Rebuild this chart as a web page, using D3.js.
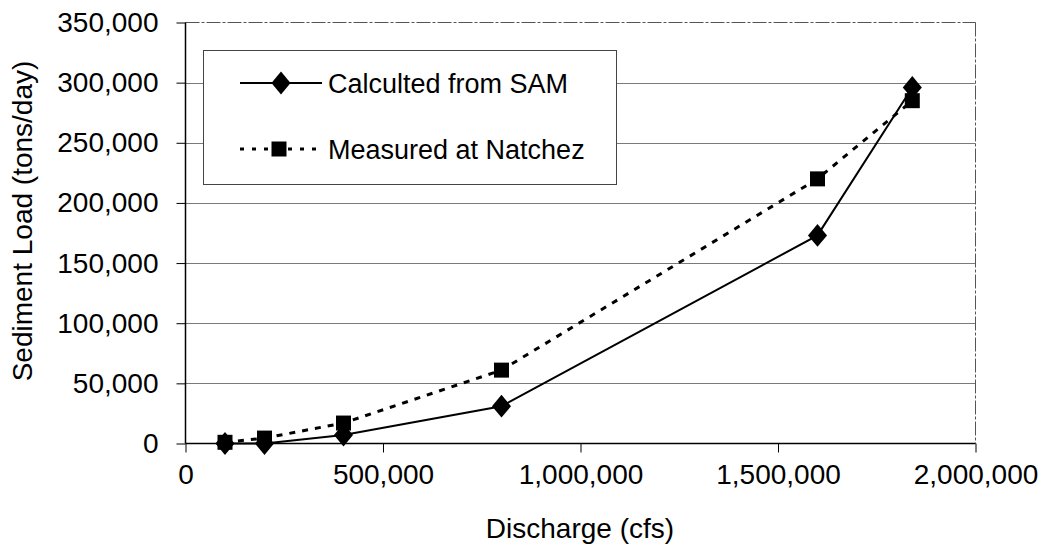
<!DOCTYPE html>
<html><head><meta charset="utf-8">
<script src="https://cdn.jsdelivr.net/npm/d3@7"></script>
<style>body{margin:0;background:#fff}svg{display:block}text{font-family:"Liberation Sans",Arial,sans-serif;fill:#000}</style>
</head><body><svg id="c" width="1049" height="556"></svg>
<script>
const discharge = [100000, 200000, 400000, 800000, 1600000, 1840000];
const calculated = [0, 0, 7000, 31000, 173000, 296000];
const measured = [1000, 4500, 17000, 61000, 220000, 285000];
const xTicks = [0, 500000, 1000000, 1500000, 2000000];
const yTicks = [0, 50000, 100000, 150000, 200000, 250000, 300000, 350000];
const seriesNames = ["Calculted from SAM", "Measured at Natchez"];

const svg = d3.select("#c");
const L = 185.5, R = 975.5, T = 22.5, B = 443.5;
const x = d3.scaleLinear().domain([0, 2000000]).range([L, R]);
const y = d3.scaleLinear().domain([0, 350000]).range([B, T]);
const fmt = d3.format(",");

// gridlines
svg.append("g").selectAll("line").data(yTicks.filter(d => d > 0 && d < 350000)).join("line")
  .attr("x1", L).attr("x2", R).attr("y1", d => Math.round(y(d)) + 0.5).attr("y2", d => Math.round(y(d)) + 0.5)
  .attr("stroke", "#7a7a7a").attr("stroke-width", 1);
// top and right border
svg.append("line").attr("x1", L).attr("x2", R).attr("y1", T).attr("y2", T)
  .attr("stroke", "#555").attr("stroke-dasharray", "14,2,3,2");
svg.append("line").attr("x1", R).attr("x2", R).attr("y1", T).attr("y2", B)
  .attr("stroke", "#555").attr("stroke-dasharray", "14,2,3,2");

// axes
const yAxis = d3.axisLeft(y).tickValues(yTicks).tickFormat(fmt).tickSize(9).tickPadding(18);
const gy = svg.append("g").attr("transform", `translate(${L},0)`).call(yAxis);
const xAxis = d3.axisBottom(x).tickValues(xTicks).tickFormat(fmt).tickSize(9).tickPadding(12);
const gx = svg.append("g").attr("transform", `translate(0,${B})`).call(xAxis);
[gx, gy].forEach(g => {
  g.select(".domain").attr("stroke", "#000").attr("stroke-width", 1.5);
  g.selectAll(".tick line").attr("stroke", "#000");
  g.selectAll("text").style("font-size", "28px").attr("fill", "#000");
});
gx.select(".domain").attr("d", `M${L},0H${R}`);
gy.select(".domain").attr("d", `M0,${B}V${T}`);

// axis titles
svg.append("text").attr("x", 580).attr("y", 538).attr("text-anchor", "middle")
  .style("font-size", "28px").text("Discharge (cfs)");
svg.append("text").attr("transform", `translate(32,221) rotate(-90)`).attr("text-anchor", "middle")
  .style("font-size", "28px").text("Sediment Load (tons/day)");

// lines
const pts = arr => discharge.map((d, i) => [d, arr[i]]);
const line = d3.line().x(d => x(d[0])).y(d => y(d[1]));
svg.append("path").attr("d", line(pts(measured))).attr("fill", "none")
  .attr("stroke", "#000").attr("stroke-width", 3).attr("stroke-dasharray", "6,7");
svg.append("path").attr("d", line(pts(calculated))).attr("fill", "none")
  .attr("stroke", "#000").attr("stroke-width", 2);

const diamond = d3.symbol().type(d3.symbolDiamond).size(150);
const square = d3.symbol().type(d3.symbolSquare).size(225);
svg.append("g").selectAll("path").data(pts(calculated)).join("path")
  .attr("d", diamond).attr("transform", d => `translate(${x(d[0])},${y(d[1])}) scale(1.45,1)`).attr("fill", "#000");
svg.append("g").selectAll("path").data(pts(measured)).join("path")
  .attr("d", square).attr("transform", d => `translate(${x(d[0])},${y(d[1])})`).attr("fill", "#000");

// legend
const lg = svg.append("g");
lg.append("rect").attr("x", 203.5).attr("y", 50.5).attr("width", 413).attr("height", 134)
  .attr("fill", "#fff").attr("stroke", "#444").attr("stroke-width", 1);
lg.append("line").attr("x1", 240).attr("x2", 322).attr("y1", 83).attr("y2", 83)
  .attr("stroke", "#000").attr("stroke-width", 2);
lg.append("path").attr("d", diamond).attr("transform", "translate(281,83) scale(1.45,1)").attr("fill", "#000");
lg.append("line").attr("x1", 240).attr("x2", 322).attr("y1", 149).attr("y2", 149)
  .attr("stroke", "#000").attr("stroke-width", 3).attr("stroke-dasharray", "4,8");
lg.append("path").attr("d", square).attr("transform", "translate(279,149)").attr("fill", "#000");
lg.append("text").attr("x", 328).attr("y", 93).style("font-size", "27px").text(seriesNames[0]);
lg.append("text").attr("x", 328).attr("y", 159).style("font-size", "27px").text(seriesNames[1]);
</script></body></html>
